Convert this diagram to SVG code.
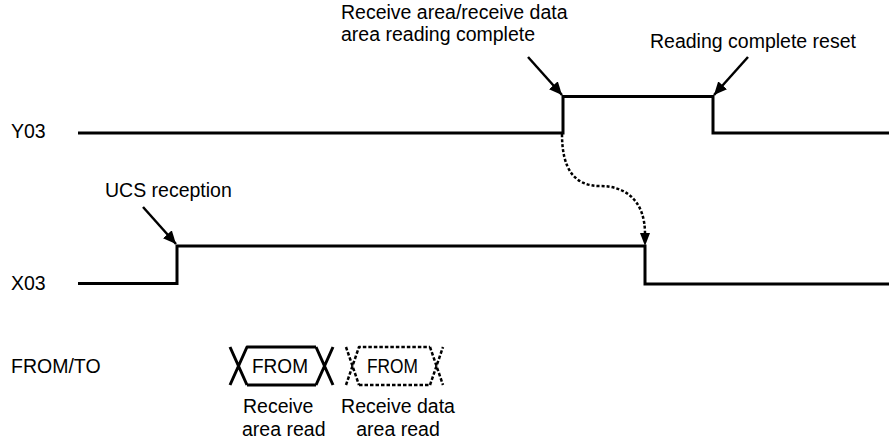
<svg xmlns="http://www.w3.org/2000/svg" width="889" height="439" viewBox="0 0 889 439">
<style>
  text { font-family: "Liberation Sans", Arial, sans-serif; font-size: 19.5px; fill: #000; }
  .sig { fill: none; stroke: #000; stroke-width: 3; stroke-linejoin: miter; }
  .arr { fill: none; stroke: #000; stroke-width: 2.5; }
  .dash { fill: none; stroke: #000; stroke-width: 2.5; stroke-dasharray: 3 2; }
  .box { fill: none; stroke: #000; stroke-width: 3; stroke-linejoin: round; }
  .dbox { fill: none; stroke: #000; stroke-width: 2.5; stroke-dasharray: 3.5 2; stroke-linejoin: round; }
</style>
<defs>
  <marker id="ah" markerUnits="userSpaceOnUse" markerWidth="14" markerHeight="12" refX="13" refY="6" orient="auto">
    <path d="M0,0 L13,6 L0,12 Z" fill="#000"/>
  </marker>
</defs>
<rect width="889" height="439" fill="#fff"/>

<g id="labels">
  <text x="11" y="138">Y03</text>
  <text x="11" y="290">X03</text>
  <text x="11" y="373">FROM/TO</text>
</g>

<g id="Y03">
  <path class="sig" d="M78,133 H563 V96.5 H713 V133 H889"/>
</g>
<g id="X03">
  <path class="sig" d="M78,283.5 H177 V246 H645 V284 H889"/>
</g>

<g id="label-receive-complete">
  <text x="341" y="19">Receive area/receive data</text>
  <text x="341" y="41">area reading complete</text>
</g>
<g id="label-reading-reset">
  <text x="650" y="48">Reading complete reset</text>
</g>
<g id="label-ucs">
  <text x="105" y="197">UCS reception</text>
</g>

<g id="connectors">
  <line class="arr" x1="528" y1="57" x2="562" y2="95" marker-end="url(#ah)"/>
  <line class="arr" x1="748" y1="57" x2="714" y2="95" marker-end="url(#ah)"/>
  <line class="arr" x1="143" y1="207" x2="176" y2="244" marker-end="url(#ah)"/>
  <path class="dash" d="M562,134 C562,170 575,186 600,186 C625,186 645,200 645,234"/>
  <path d="M640,233 L650,233 L645,246 Z" fill="#000"/>
</g>

<g id="from-receive-area">
  <path class="box" d="M230,347 L247,385 M230,385 L247,347 H316 M247,385 H316 M316,347 L333,385 M316,385 L333,347"/>
  <text x="252" y="373" textLength="56" lengthAdjust="spacingAndGlyphs">FROM</text>
  <text x="243" y="413">Receive</text>
  <text x="242" y="436">area read</text>
</g>

<g id="from-receive-data">
  <path class="dbox" d="M346,347 L359,385 M346,385 L359,347 H430 M359,385 H430 M430,347 L443,385 M430,385 L443,347"/>
  <text x="367" y="373" textLength="51" lengthAdjust="spacingAndGlyphs">FROM</text>
  <text x="398" y="413" text-anchor="middle">Receive data</text>
  <text x="398" y="436" text-anchor="middle">area read</text>
</g>
</svg>
